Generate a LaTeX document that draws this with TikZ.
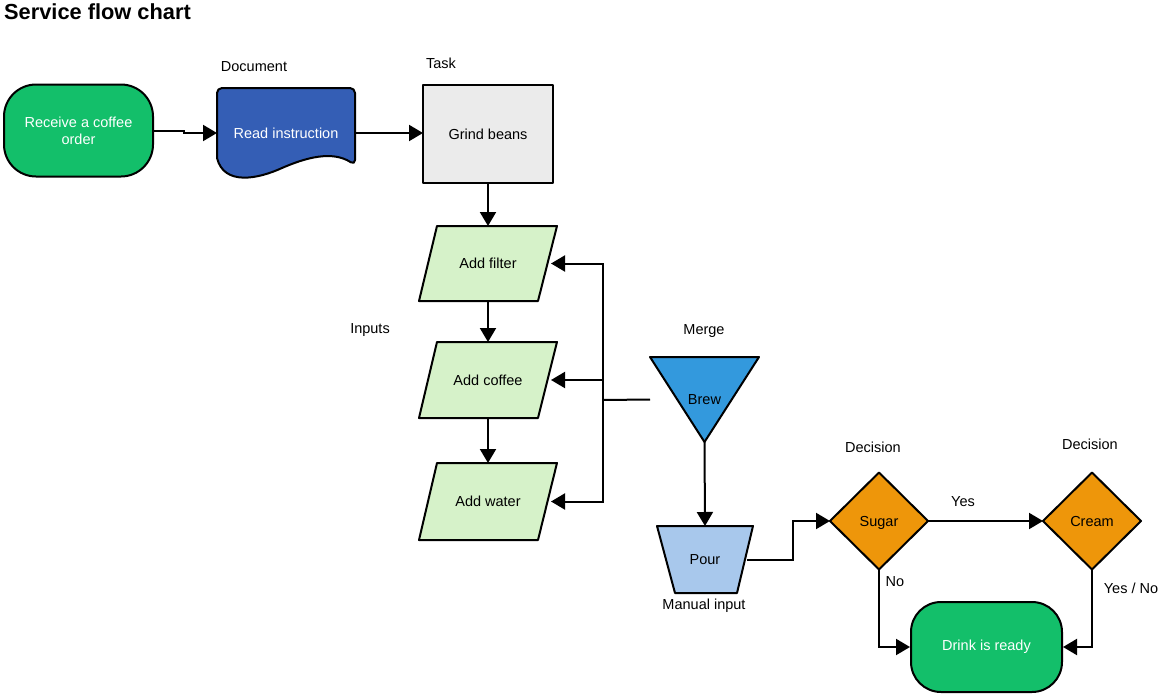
\documentclass[tikz,border=0pt]{standalone}
\usepackage{fontspec}
\setmainfont{Liberation Sans}
\usetikzlibrary{shapes.geometric,arrows.meta,backgrounds}
\definecolor{termgreen}{HTML}{13BF6A}
\definecolor{docblue}{HTML}{345EB5}
\definecolor{taskgrey}{HTML}{EBEBEB}
\definecolor{inputgreen}{HTML}{D6F2C9}
\definecolor{mergeblue}{HTML}{3399DD}
\definecolor{pourblue}{HTML}{A8C8EC}
\definecolor{decorange}{HTML}{EE960A}
\tikzset{
  shapeline/.style={draw=black, line width=2pt, line join=round},
  term/.style={shapeline, fill=termgreen, text=white, rounded corners=32pt, align=center, inner sep=0pt},
  boxref/.style={inner sep=0pt, outer sep=0pt, align=center},
  taskbox/.style={shapeline, fill=taskgrey, inner sep=0pt, outer sep=0pt},
  decision/.style={shapeline, diamond, aspect=1, fill=decorange, inner sep=0pt, outer sep=0pt, minimum width=98pt, minimum height=97pt, text height=10.5pt, text depth=0pt},
  conn/.style={line width=2pt, -{Triangle[length=14pt,width=16pt]}},
  plainconn/.style={line width=2pt},
  lbl/.style={inner sep=0pt, yshift=-1.5pt}
}
\begin{document}
\begin{tikzpicture}[x=1pt,y=-1pt, font=\fontsize{14.5}{17}\selectfont]
\useasboundingbox (0,0) rectangle (1163,699);

% title
\node[inner sep=0pt, anchor=base west, font=\fontsize{21.8}{25}\selectfont\bfseries] (title) at (4,19.5) {Service flow chart};

% nodes
\node[term, minimum width=149pt, minimum height=92pt] (recv) at (78.5,130.5) {Receive a coffee\\order};
\node[boxref, minimum width=138pt, minimum height=90pt, text=white] (doc) at (286,133) {Read instruction};
\node[taskbox, minimum width=130pt, minimum height=98pt] (grind) at (488,134) {Grind beans};
\node[boxref, minimum width=126pt, minimum height=75pt] (filter) at (488,263.5) {Add filter};
\node[boxref, minimum width=126pt, minimum height=76pt] (coffee) at (488,380) {Add coffee};
\node[boxref, minimum width=126pt, minimum height=77pt] (water) at (488,501.5) {Add water};
\node[boxref, minimum width=109pt, minimum height=85pt] (brew) at (704.5,399.5) {Brew};
\node[boxref, minimum width=96pt, minimum height=67pt] (pour) at (705,559.5) {Pour};
\node[decision] (sugar) at (879,521) {Sugar};
\node[decision] (cream) at (1092,521) {Cream};
\node[term, minimum width=151pt, minimum height=90pt, rounded corners=30pt] (drink) at (986.5,647) {Drink is ready};

% drawn shapes behind the text
\begin{scope}[on background layer]
  \fill[white] (0,0) rectangle (1163,699);
  \path[shapeline, fill=docblue, rounded corners=5pt]
    (doc.north west) -- (doc.north east) -- ([yshift=13pt]doc.south east)
    [sharp corners] .. controls (332,150) and (305,158) .. (282,168)
    .. controls (258,179) and (224,186) .. (217,158) [rounded corners=5pt] -- cycle;
  \foreach \n in {filter,coffee,water}{
    \path[shapeline, fill=inputgreen]
      ([xshift=-51pt]\n.north) -- ([xshift=69pt]\n.north) --
      ([xshift=50pt]\n.south) -- ([xshift=-69pt]\n.south) -- cycle;
  }
  \path[shapeline, fill=mergeblue] (brew.north west) -- (brew.north east) -- (brew.south) -- cycle;
  \path[shapeline, fill=pourblue] (pour.north west) -- (pour.north east) --
    ([xshift=-16pt]pour.south east) -- ([xshift=18pt]pour.south west) -- cycle;
\end{scope}

% labels
\node[lbl] (ldoc) at (254,65) {Document};
\node[lbl] (ltask) at (441,62) {Task};
\node[lbl] (linputs) at (370,329) {Inputs};
\node[lbl] (lmerge) at (704,330) {Merge};
\node[lbl] (lmanual) at (704,604) {Manual input};
\node[lbl] (ldec1) at (873,446) {Decision};
\node[lbl] (ldec2) at (1090,443) {Decision};
\node[lbl] (lyes) at (963,500) {Yes};
\node[lbl] (lno) at (895,580) {No};
\node[lbl] (lyesno) at (1131,587) {Yes / No};

% connectors
\coordinate (bus) at (603,400);
\draw[conn] (recv.east) -| ([xshift=-33pt]doc.west) -- (doc.west);
\draw[conn] (doc.east) -- (doc.east -| grind.west);
\draw[conn] (grind.south) -- (filter.north);
\draw[conn] (filter.south) -- (coffee.north);
\draw[conn] (coffee.south) -- (water.north);
\draw[plainconn] (brew.west) -- (bus);
\draw[conn] (bus) |- (filter.east);
\draw[conn] (bus) -- (bus |- coffee.east) -- (coffee.east);
\draw[conn] (bus) |- (water.east);
\draw[conn] (brew.south) -- (pour.north);
\draw[conn] ([xshift=-6pt]pour.east) -| ([xshift=-37pt]sugar.west) -- (sugar.west);
\draw[conn] (sugar.east) -- (cream.west);
\draw[conn] (sugar.south) |- (drink.west);
\draw[conn] (cream.south) |- (drink.east);
\end{tikzpicture}
\end{document}
